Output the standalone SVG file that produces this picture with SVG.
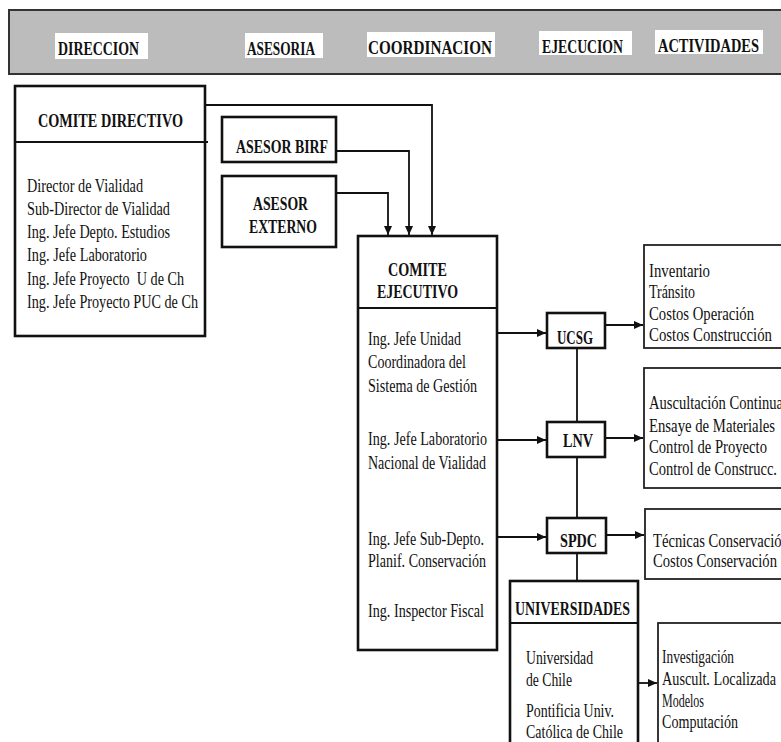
<svg xmlns="http://www.w3.org/2000/svg" width="781" height="742" viewBox="0 0 781 742">
<defs>
<style>
.box{fill:#fff;stroke:#111;stroke-width:2.6}
.thin{fill:#fff;stroke:#222;stroke-width:1.8}
.div{stroke:#111;stroke-width:2.2}
.t{font-family:"Liberation Serif",serif;font-size:18px;fill:#111}
.b{font-family:"Liberation Serif",serif;font-size:19px;font-weight:bold;fill:#111}
.lab{fill:#fff}
.c{fill:none;stroke:#111;stroke-width:1.8}
</style>
<marker id="ah" markerUnits="userSpaceOnUse" markerWidth="9" markerHeight="8" refX="9" refY="4" orient="auto">
<path d="M0,0 L9,4 L0,8 z" fill="#111"/>
</marker>
</defs>
<rect width="781" height="742" fill="#fff"/>

<g id="header">
<rect x="9" y="10" width="790" height="64" fill="#bcbcbc" stroke="#333" stroke-width="2"/>
<rect class="lab" x="55" y="33" width="93" height="26"/>
<rect class="lab" x="245" y="33" width="78" height="25"/>
<rect class="lab" x="367" y="32" width="128" height="25"/>
<rect class="lab" x="539" y="31" width="93" height="24"/>
<rect class="lab" x="655" y="30" width="108" height="24"/>
<text class="b" x="58" y="55" textLength="81" lengthAdjust="spacingAndGlyphs">DIRECCION</text>
<text class="b" x="247" y="55" textLength="68" lengthAdjust="spacingAndGlyphs">ASESORIA</text>
<text class="b" x="368" y="54" textLength="124" lengthAdjust="spacingAndGlyphs">COORDINACION</text>
<text class="b" x="542" y="53" textLength="81" lengthAdjust="spacingAndGlyphs">EJECUCION</text>
<text class="b" x="658" y="52" textLength="101" lengthAdjust="spacingAndGlyphs">ACTIVIDADES</text>
</g>

<g id="connectors">
<path class="c" d="M205,105 H432 V235" marker-end="url(#ah)"/>
<path class="c" d="M336,151 H409 V235" marker-end="url(#ah)"/>
<path class="c" d="M336,193 H388 V235" marker-end="url(#ah)"/>
<path class="c" d="M497,333 H546" marker-end="url(#ah)"/>
<path class="c" d="M497,440 H546" marker-end="url(#ah)"/>
<path class="c" d="M498,537 H546" marker-end="url(#ah)"/>
<path class="c" d="M605,325 H643" marker-end="url(#ah)"/>
<path class="c" d="M605,438 H643" marker-end="url(#ah)"/>
<path class="c" d="M606,535 H644" marker-end="url(#ah)"/>
<path class="c" d="M577,348 V422"/>
<path class="c" d="M577,457 V518"/>
<path class="c" d="M577,553 V581"/>
<path class="c" d="M638,683 H657" marker-end="url(#ah)"/>
</g>

<g id="comite-directivo">
<rect class="box" x="15" y="86" width="190" height="250" stroke-width="3"/>
<line class="div" x1="15" y1="142" x2="208" y2="142"/>
<text class="b" x="38" y="127" textLength="145" lengthAdjust="spacingAndGlyphs">COMITE DIRECTIVO</text>
<text class="t" x="27" y="192" textLength="116" lengthAdjust="spacingAndGlyphs">Director de Vialidad</text>
<text class="t" x="27" y="215" textLength="143" lengthAdjust="spacingAndGlyphs">Sub-Director de Vialidad</text>
<text class="t" x="27" y="238" textLength="143" lengthAdjust="spacingAndGlyphs">Ing. Jefe Depto. Estudios</text>
<text class="t" x="27" y="261" textLength="120" lengthAdjust="spacingAndGlyphs">Ing. Jefe Laboratorio</text>
<text class="t" x="27" y="285" textLength="157" lengthAdjust="spacingAndGlyphs" xml:space="preserve">Ing. Jefe Proyecto  U de Ch</text>
<text class="t" x="27" y="308" textLength="171" lengthAdjust="spacingAndGlyphs">Ing. Jefe Proyecto PUC de Ch</text>
</g>

<g id="asesor-birf">
<rect class="box" x="222" y="117" width="114" height="45" stroke-width="3"/>
<text class="b" x="236" y="153" textLength="92" lengthAdjust="spacingAndGlyphs">ASESOR BIRF</text>
</g>

<g id="asesor-externo">
<rect class="box" x="222" y="176" width="114" height="71" stroke-width="3"/>
<text class="b" x="253" y="210" textLength="55" lengthAdjust="spacingAndGlyphs">ASESOR</text>
<text class="b" x="249" y="233" textLength="68" lengthAdjust="spacingAndGlyphs">EXTERNO</text>
</g>

<g id="comite-ejecutivo">
<rect class="box" x="358" y="236" width="139" height="414"/>
<line class="div" x1="358" y1="308" x2="497" y2="308"/>
<text class="b" x="388" y="276" textLength="59" lengthAdjust="spacingAndGlyphs">COMITE</text>
<text class="b" x="377" y="298" textLength="81" lengthAdjust="spacingAndGlyphs">EJECUTIVO</text>
<text class="t" x="368" y="345" textLength="93" lengthAdjust="spacingAndGlyphs">Ing. Jefe Unidad</text>
<text class="t" x="368" y="368" textLength="98" lengthAdjust="spacingAndGlyphs">Coordinadora del</text>
<text class="t" x="368" y="392" textLength="109" lengthAdjust="spacingAndGlyphs">Sistema de Gestión</text>
<text class="t" x="368" y="445" textLength="119" lengthAdjust="spacingAndGlyphs">Ing. Jefe Laboratorio</text>
<text class="t" x="368" y="469" textLength="118" lengthAdjust="spacingAndGlyphs">Nacional de Vialidad</text>
<text class="t" x="368" y="545" textLength="116" lengthAdjust="spacingAndGlyphs">Ing. Jefe Sub-Depto.</text>
<text class="t" x="368" y="567" textLength="118" lengthAdjust="spacingAndGlyphs">Planif. Conservación</text>
<text class="t" x="368" y="617" textLength="116" lengthAdjust="spacingAndGlyphs">Ing. Inspector Fiscal</text>
</g>

<g id="ucsg">
<rect class="box" x="547" y="313" width="58" height="35"/>
<text class="b" x="557" y="344" textLength="36" lengthAdjust="spacingAndGlyphs">UCSG</text>
</g>

<g id="lnv">
<rect class="box" x="547" y="422" width="58" height="35"/>
<text class="b" x="563" y="447" textLength="30" lengthAdjust="spacingAndGlyphs">LNV</text>
</g>

<g id="spdc">
<rect class="box" x="547" y="518" width="59" height="35"/>
<text class="b" x="560" y="547" textLength="37" lengthAdjust="spacingAndGlyphs">SPDC</text>
</g>

<g id="universidades">
<rect class="box" x="510" y="581" width="128" height="175"/>
<line class="div" x1="510" y1="623" x2="638" y2="623"/>
<text class="b" x="515" y="615" textLength="115" lengthAdjust="spacingAndGlyphs">UNIVERSIDADES</text>
<text class="t" x="526" y="664" textLength="67" lengthAdjust="spacingAndGlyphs">Universidad</text>
<text class="t" x="526" y="686" textLength="46" lengthAdjust="spacingAndGlyphs">de Chile</text>
<text class="t" x="526" y="717" textLength="88" lengthAdjust="spacingAndGlyphs">Pontificia Univ.</text>
<text class="t" x="526" y="738" textLength="97" lengthAdjust="spacingAndGlyphs">Católica de Chile</text>
</g>

<g id="act-ucsg">
<rect class="thin" x="644" y="245" width="150" height="103"/>
<text class="t" x="649" y="277" textLength="61" lengthAdjust="spacingAndGlyphs">Inventario</text>
<text class="t" x="649" y="298" textLength="46" lengthAdjust="spacingAndGlyphs">Tránsito</text>
<text class="t" x="649" y="320" textLength="105" lengthAdjust="spacingAndGlyphs">Costos Operación</text>
<text class="t" x="649" y="341" textLength="123" lengthAdjust="spacingAndGlyphs">Costos Construcción</text>
</g>

<g id="act-lnv">
<rect class="thin" x="644" y="368" width="150" height="120"/>
<text class="t" x="649" y="409" textLength="134" lengthAdjust="spacingAndGlyphs">Auscultación Continua</text>
<text class="t" x="649" y="432" textLength="126" lengthAdjust="spacingAndGlyphs">Ensaye de Materiales</text>
<text class="t" x="649" y="453" textLength="118" lengthAdjust="spacingAndGlyphs">Control de Proyecto</text>
<text class="t" x="649" y="475" textLength="128" lengthAdjust="spacingAndGlyphs">Control de Construcc.</text>
</g>

<g id="act-spdc">
<rect class="thin" x="645" y="509" width="150" height="70"/>
<text class="t" x="653" y="547" textLength="136" lengthAdjust="spacingAndGlyphs">Técnicas Conservación</text>
<text class="t" x="653" y="567" textLength="124" lengthAdjust="spacingAndGlyphs">Costos Conservación</text>
</g>

<g id="act-universidades">
<rect class="thin" x="658" y="623" width="150" height="130"/>
<text class="t" x="662" y="663" textLength="72" lengthAdjust="spacingAndGlyphs">Investigación</text>
<text class="t" x="662" y="685" textLength="114" lengthAdjust="spacingAndGlyphs">Auscult. Localizada</text>
<text class="t" x="662" y="707" textLength="42" lengthAdjust="spacingAndGlyphs">Modelos</text>
<text class="t" x="662" y="728" textLength="76" lengthAdjust="spacingAndGlyphs">Computación</text>
</g>
</svg>
